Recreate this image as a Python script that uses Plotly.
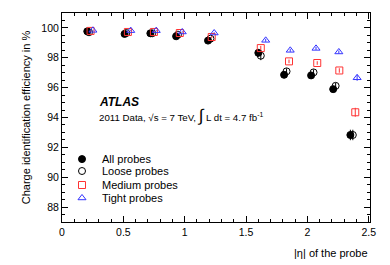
import plotly.graph_objects as go

# Data
all_eta = [0.206, 0.51, 0.72, 0.93, 1.19, 1.60, 1.81, 2.03, 2.21, 2.35]
all_eff = [99.77, 99.6, 99.64, 99.44, 99.15, 98.33, 96.86, 96.82, 95.9, 92.83]
all_err = [0.05, 0.05, 0.05, 0.05, 0.08, 0.25, 0.2, 0.2, 0.2, 0.35]

loose_eta = [0.22, 0.524, 0.735, 0.945, 1.21, 1.62, 1.83, 2.05, 2.23, 2.37]
loose_eff = [99.71, 99.66, 99.64, 99.55, 99.28, 98.14, 97.09, 97.02, 96.12, 92.83]
loose_err = [0.05, 0.05, 0.05, 0.05, 0.08, 0.3, 0.2, 0.2, 0.2, 0.35]

medium_eta = [0.233, 0.537, 0.749, 0.96, 1.22, 1.62, 1.85, 2.08, 2.26, 2.39]
medium_eff = [99.8, 99.73, 99.73, 99.66, 99.39, 98.65, 97.76, 97.65, 97.15, 94.35]
medium_err = [0.04, 0.04, 0.04, 0.05, 0.07, 0.15, 0.12, 0.12, 0.15, 0.3]

tight_eta = [0.252, 0.56, 0.768, 0.98, 1.24, 1.66, 1.86, 2.07, 2.256, 2.405]
tight_eff = [99.84, 99.82, 99.82, 99.73, 99.66, 99.17, 98.5, 98.63, 98.39, 96.66]
tight_err = [0.03, 0.03, 0.03, 0.04, 0.05, 0.1, 0.1, 0.1, 0.1, 0.2]

FONT = "Liberation Sans, Arial, sans-serif"

fig = go.Figure()

def add(name, x, y, e, symbol, color, legend, size=7):
    fig.add_trace(go.Scatter(
        x=x, y=y, mode="markers", name=name, legend=legend,
        marker=dict(symbol=symbol, size=size, color=color,
                    line=dict(color=color, width=1)),
        error_y=dict(type="data", array=e, color=color, thickness=1, width=0),
    ))

add("All probes", all_eta, all_eff, all_err, "circle", "black", "legend", 7)
add("Loose probes", loose_eta, loose_eff, loose_err, "circle-open", "black", "legend2", 7)
add("Medium probes", medium_eta, medium_eff, medium_err, "square-open", "#ff3333", "legend3", 7)
add("Tight probes", tight_eta, tight_eff, tight_err, "triangle-up-open", "#3333ff", "legend4", 7)

axis_common = dict(
    showgrid=False, zeroline=False, showline=True, linecolor="black", linewidth=1,
    mirror="ticks", ticks="inside", ticklen=6, tickcolor="black",
    tickfont=dict(family=FONT, size=10.5, color="black"),
)

fig.update_xaxes(range=[0, 2.51], tick0=0, dtick=0.5,
                 minor=dict(ticks="inside", ticklen=3, dtick=0.1, tickcolor="black"),
                 title=None, **axis_common)
fig.update_yaxes(range=[87, 101], tick0=88, dtick=2,
                 minor=dict(ticks="inside", ticklen=3, dtick=0.5, tickcolor="black"),
                 title=dict(text="Charge identification efficiency in %",
                            font=dict(family=FONT, size=11, color="black"), standoff=8),
                 automargin=False,
                 **axis_common)

fig.add_annotation(x=1, y=-0.11, xref="paper", yref="paper", xanchor="right", yanchor="top",
                   text="|η| of the probe", showarrow=False,
                   font=dict(family=FONT, size=11, color="black"))
fig.add_annotation(x=0.115, y=0.575, xref="paper", yref="paper", xanchor="left", yanchor="middle",
                   text="<b><i>ATLAS</i></b>", showarrow=False,
                   font=dict(family=FONT, size=12, color="black"))
fig.add_annotation(x=0.115, y=0.51, xref="paper", yref="paper", xanchor="left", yanchor="middle",
                   text="2011 Data, √s = 7 TeV, <span style='font-size:17px'>∫</span> L dt = 4.7 fb<sup>-1</sup>",
                   showarrow=False, font=dict(family=FONT, size=9.7, color="black"))

leg_common = dict(x=0.0, xanchor="left", yanchor="middle",
                  font=dict(family=FONT, size=11, color="black"),
                  bgcolor="rgba(0,0,0,0)", itemwidth=30)

fig.update_layout(
    width=390, height=265,
    margin=dict(l=62, r=20, t=13, b=43, autoexpand=False),
    plot_bgcolor="white", paper_bgcolor="white",
    showlegend=True,
    legend=dict(y=0.301, **leg_common),
    legend2=dict(y=0.244, **leg_common),
    legend3=dict(y=0.177, **leg_common),
    legend4=dict(y=0.115, **leg_common),
    font=dict(family=FONT, color="black"),
)

fig.write_html("out.html", config={"displayModeBar": False},
               post_script="document.body.style.margin='0';")
